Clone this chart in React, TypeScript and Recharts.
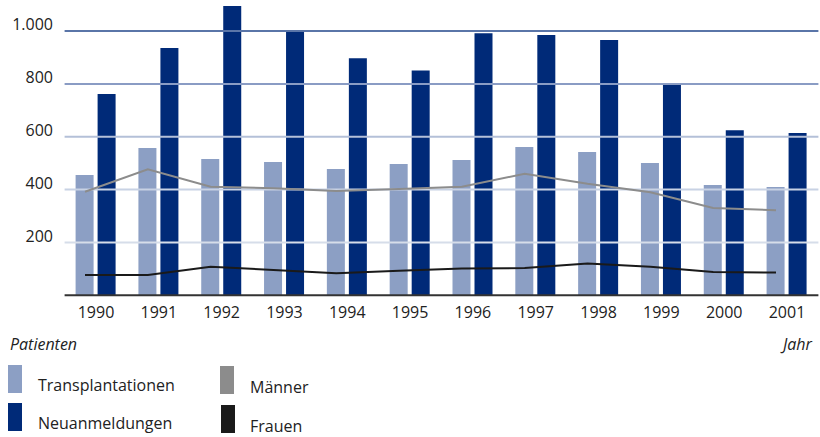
import { ComposedChart, Bar, Line, XAxis, YAxis, ReferenceLine } from 'recharts';

const years = ['1990', '1991', '1992', '1993', '1994', '1995', '1996', '1997', '1998', '1999', '2000', '2001'];
const transplantationen = [455, 557, 516, 504, 478, 497, 512, 561, 542, 501, 417, 410];
const neuanmeldungen = [762, 936, 1095, 1000, 897, 851, 992, 985, 966, 803, 625, 614];
const maenner = [392, 477, 411, 405, 395, 402, 411, 460, 422, 390, 330, 322];
const frauen = [77, 77, 108, 96, 83, 93, 101, 103, 120, 108, 88, 86];
const yTicks = [0, 200, 400, 600, 800, 1000];

const gridColors: Record<number, string> = {
  200: '#d6dde9',
  400: '#c8d2e4',
  600: '#b4c0d8',
  800: '#8a9cc4',
  1000: '#5a75a8',
};

const data = years.map((year, i) => ({
  year,
  idx: i,
  transplantationen: transplantationen[i],
  neuanmeldungen: neuanmeldungen[i],
  maenner: maenner[i],
  frauen: frauen[i],
}));

const FONT = '"Open Sans", sans-serif';
const TEXT = '#222';

const fmt = (v: number) => (v >= 1000 ? `${Math.floor(v / 1000)}.${String(v % 1000).padStart(3, '0')}` : String(v));

const YTick = (props: any) => {
  const { y, payload } = props;
  if (payload.value === 0) return null;
  return (
    <text x={53} y={y - 5} textAnchor="end" dominantBaseline="middle" fontSize={16} fill={TEXT} fontFamily={FONT}>
      {fmt(payload.value)}
    </text>
  );
};

const XTick = (props: any) => {
  const { x, payload } = props;
  return (
    <text x={x} y={314} textAnchor="middle" dominantBaseline="middle" fontSize={16} fill={TEXT} fontFamily={FONT}>
      {payload.value}
    </text>
  );
};

const Swatch = ({ left, top, color }: { left: number; top: number; color: string }) => (
  <div style={{ position: 'absolute', left, top, width: 14, height: 28, background: color }} />
);

const Label = ({ left, top, text, italic }: { left: number; top: number; text: string; italic?: boolean }) => (
  <div
    style={{
      position: 'absolute',
      left,
      top,
      fontSize: 16,
      lineHeight: '20px',
      color: TEXT,
      fontStyle: italic ? 'italic' : 'normal',
      whiteSpace: 'nowrap',
    }}
  >
    {text}
  </div>
);

export default function App() {
  return (
    <div style={{ position: 'absolute', left: 0, top: 0, width: 820, height: 437, background: '#fff', fontFamily: FONT }}>
      <ComposedChart
        width={820}
        height={332}
        data={data}
        margin={{ top: 4.6, right: 1.6, left: 0, bottom: 0 }}
        barSize={18}
        barGap={4}
      >
        <YAxis
          domain={[0, 1100]}
          ticks={yTicks}
          allowDataOverflow
          width={64.6}
          axisLine={false}
          tickLine={false}
          tick={<YTick />}
        />
        <XAxis
          xAxisId="cat"
          dataKey="year"
          height={36.7}
          tickLine={false}
          axisLine={false}
          tick={<XTick />}
          interval={0}
        />
        <XAxis xAxisId="num" dataKey="idx" type="number" domain={[-0.325, 11.675]} allowDataOverflow hide />
        {yTicks
          .filter((t) => t > 0)
          .map((t) => (
            <ReferenceLine key={t} xAxisId="cat" y={t} stroke={gridColors[t]} strokeWidth={2} />
          ))}
        <Bar xAxisId="cat" dataKey="transplantationen" fill="#8c9fc4" isAnimationActive={false} />
        <Bar xAxisId="cat" dataKey="neuanmeldungen" fill="#002a78" isAnimationActive={false} />
        <ReferenceLine xAxisId="cat" y={0} stroke="#333" strokeWidth={2} />
        <Line
          xAxisId="num"
          dataKey="maenner"
          type="linear"
          stroke="#8c8c8c"
          strokeWidth={2}
          dot={false}
          isAnimationActive={false}
        />
        <Line
          xAxisId="num"
          dataKey="frauen"
          type="linear"
          stroke="#1a1a1a"
          strokeWidth={2}
          dot={false}
          isAnimationActive={false}
        />
      </ComposedChart>
      <Label left={10} top={334} text="Patienten" italic />
      <Label left={783} top={334} text="Jahr" italic />
      <Swatch left={8} top={365} color="#8c9fc4" />
      <Label left={38} top={375} text="Transplantationen" />
      <Swatch left={8} top={403} color="#002a78" />
      <Label left={38} top={413} text="Neuanmeldungen" />
      <Swatch left={220} top={366} color="#8c8c8c" />
      <Label left={250} top={377} text="Männer" />
      <Swatch left={221} top={405} color="#1a1a1a" />
      <Label left={250} top={416} text="Frauen" />
    </div>
  );
}
